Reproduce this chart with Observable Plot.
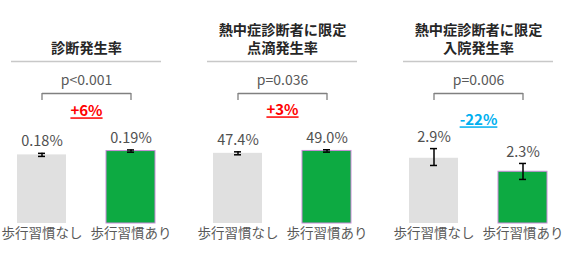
<!DOCTYPE html>
<html><head><meta charset="utf-8">
<script src="https://cdn.jsdelivr.net/npm/d3@7"></script>
<script src="https://cdn.jsdelivr.net/npm/@observablehq/plot@0.6"></script>
<style>
html,body{margin:0;padding:0;background:#fff;overflow:hidden}
#wrap{position:relative;width:566px;height:258px}
#wrap svg{position:absolute;top:0}
</style></head><body><div id="wrap"></div>
<script>
// ---- data ----
const categories = ["歩行習慣なし", "歩行習慣あり"];
const panelTitles = ["診断発生率", "熱中症診断者に限定\n点滴発生率", "熱中症診断者に限定\n入院発生率"];
const pValues = ["p<0.001", "p=0.036", "p=0.006"];
const changeLabels = ["+6%", "+3%", "-22%"];
const diagnosisRate = [0.18, 0.19];
const diagnosisLow = [0.176, 0.187];
const diagnosisHigh = [0.184, 0.193];
const dripRate = [47.4, 49.0];
const dripLow = [46.4, 48.2];
const dripHigh = [48.4, 49.8];
const hospitalRate = [2.9, 2.3];
const hospitalLow = [2.58, 1.96];
const hospitalHigh = [3.33, 2.67];
const valueDecimals = [2, 1, 1];

// ---- layout / style ----
const yMax = [0.341, 87.8, 5.78];
const panelLeft = [0, 196, 392];
const changeDy = [18, 17, 27];
const changeColor = ["#FF0000", "#FF0000", "#00B0F0"];
const font = "'Noto Sans CJK JP', 'Noto Sans', sans-serif";

function panel(i, rate, lo, hi) {
  const data = categories.map((c, k) => ({cat: c, v: rate[k], lo: lo[k], hi: hi[k],
    label: rate[k].toFixed(valueDecimals[i]) + "%"}));
  const twoLines = panelTitles[i].includes("\n");
  const svg = Plot.plot({
    width: 170, height: 258,
    marginLeft: 11, marginRight: 9, marginTop: 93, marginBottom: 35,
    style: {fontFamily: font, fontSize: "13.5px", color: "#595959", background: "transparent", overflow: "visible"},
    x: {domain: categories, paddingInner: 0.45, paddingOuter: 0.067, tickSize: 0, tickPadding: 5, label: null},
    y: {domain: [0, yMax[i]], axis: null},
    marks: [
      Plot.barY(data.filter(d => d.cat === categories[0]), {x: "cat", y: "v", fill: "#E0E0E0"}),
      Plot.barY(data.filter(d => d.cat === categories[1]), {x: "cat", y: "v", fill: "#0DAA42", stroke: "#C98BD8", strokeWidth: 1}),
      Plot.ruleX(data, {x: "cat", y1: "lo", y2: "hi", stroke: "#000", strokeWidth: 1.5}),
      Plot.tickY(data, {x: "cat", y: "lo", insetLeft: 21, insetRight: 21, stroke: "#000", strokeWidth: 1.5}),
      Plot.tickY(data, {x: "cat", y: "hi", insetLeft: 21, insetRight: 21, stroke: "#000", strokeWidth: 1.5}),
      Plot.text(data, {x: "cat", y: "hi", text: "label", dy: -11.5, lineAnchor: "middle", fill: "#505050", fontSize: 14.5}),
      Plot.text([panelTitles[i]], {text: d => d, frameAnchor: "top", lineAnchor: "middle", dy: twoLines ? -55.5 : -46, lineHeight: 1.3,
        fontWeight: "bold", fontSize: 14.2, fill: "#262626"}),
      Plot.ruleY([yMax[i]], {dy: -32, stroke: "#C8C8C8", strokeWidth: 1.5}),
      Plot.text([pValues[i]], {text: d => d, frameAnchor: "top", lineAnchor: "middle", dy: -13, fill: "#595959", fontSize: 14}),
      Plot.link([0], {x1: () => categories[0], x2: () => categories[1], y1: () => yMax[i], y2: () => yMax[i],
        stroke: "#808080", strokeWidth: 1.3}),
      Plot.ruleX(categories, {x: d => d, insetBottom: 123, stroke: "#808080", strokeWidth: 1.3}),
      Plot.text([changeLabels[i]], {text: d => d, frameAnchor: "top", lineAnchor: "middle", dy: changeDy[i], fill: changeColor[i],
        fontWeight: "bold", fontSize: 15})
    ]
  });
  svg.style.left = panelLeft[i] + "px";
  svg.querySelectorAll("text").forEach(t => {
    if (t.textContent === changeLabels[i]) t.style.textDecoration = "underline";
  });
  return svg;
}

const wrap = document.getElementById("wrap");
wrap.appendChild(panel(0, diagnosisRate, diagnosisLow, diagnosisHigh));
wrap.appendChild(panel(1, dripRate, dripLow, dripHigh));
wrap.appendChild(panel(2, hospitalRate, hospitalLow, hospitalHigh));
</script></body></html>
